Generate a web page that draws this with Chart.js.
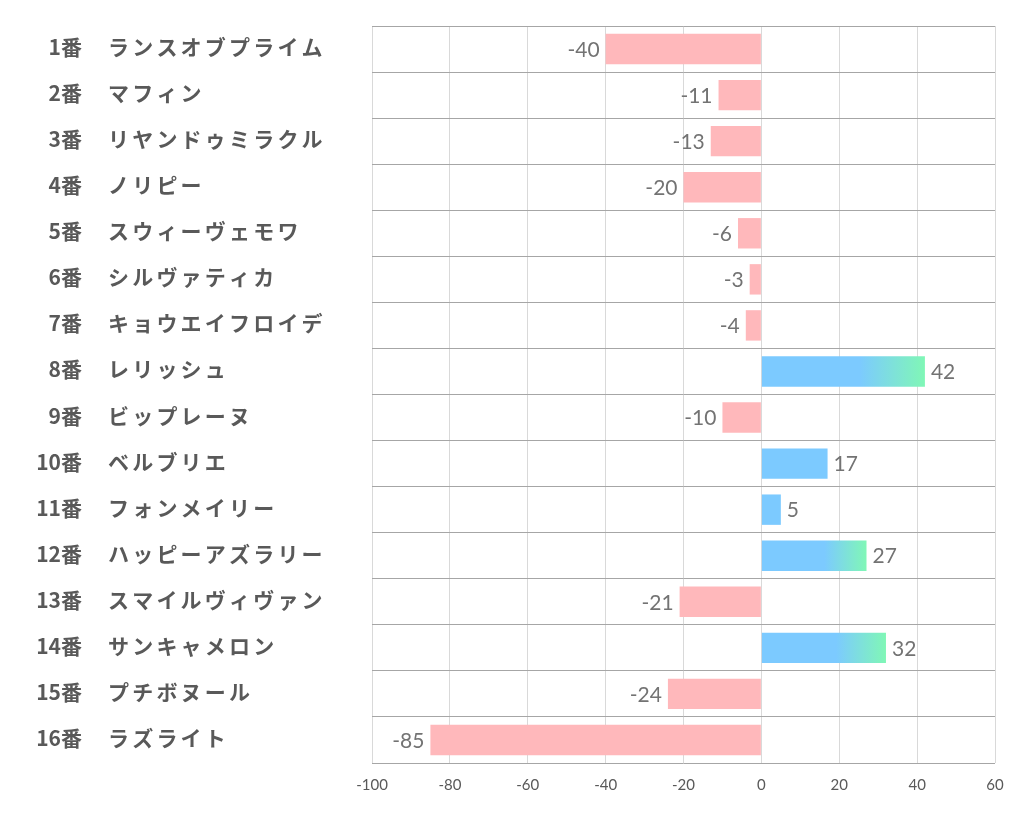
<!DOCTYPE html>
<html>
<head>
<meta charset="utf-8">
<script src="https://cdn.jsdelivr.net/npm/chart.js@4/dist/chart.umd.min.js"></script>
<style>
    html, body { margin: 0; padding: 0; background: #fff; }
    #wrap { width: 1022px; height: 834px; }
</style>
</head>
<body>
<div id="wrap"><canvas id="chart"></canvas></div>
<script>
    const horseNumbers = ['1番', '2番', '3番', '4番', '5番', '6番', '7番', '8番',
        '9番', '10番', '11番', '12番', '13番', '14番', '15番', '16番'];
    const horseNames = ['ランスオブプライム', 'マフィン', 'リヤンドゥミラクル', 'ノリピー',
        'スウィーヴェモワ', 'シルヴァティカ', 'キョウエイフロイデ', 'レリッシュ',
        'ビップレーヌ', 'ベルブリエ', 'フォンメイリー', 'ハッピーアズラリー',
        'スマイルヴィヴァン', 'サンキャメロン', 'プチボヌール', 'ラズライト'];
    const scores = [-40, -11, -13, -20, -6, -3, -4, 42, -10, 17, 5, 27, -21, 32, -24, -85];
    const xTicks = [-100, -80, -60, -40, -20, 0, 20, 40, 60];

    const labelFont = 'bold 21px "Noto Sans CJK JP", sans-serif';
    const valueFont = '21px Lato, "Open Sans", sans-serif';

    function barColor(ctx) {
        const v = ctx.raw;
        if (v < 0) return '#ffb8bb';
        const chart = ctx.chart;
        if (v <= 20 || !chart.chartArea) return '#7ccaff';
        const x0 = chart.scales.x.getPixelForValue(0);
        const x1 = chart.scales.x.getPixelForValue(v);
        const g = chart.ctx.createLinearGradient(x0, 0, x1, 0);
        g.addColorStop(0, '#7ccaff');
        g.addColorStop(0.6, '#7ccaff');
        g.addColorStop(1, '#80f7b6');
        return g;
    }

    // names on the left: number right aligned, name left aligned
    const sideLabels = {
        id: 'sideLabels',
        afterDraw(chart) {
            const c = chart.ctx;
            const y = chart.scales.y;
            c.save();
            c.font = labelFont;
            c.fillStyle = '#595959';
            c.textBaseline = 'middle';
            horseNumbers.forEach((num, i) => {
                const py = y.getPixelForValue(i) - 2;
                c.textAlign = 'right';
                c.letterSpacing = '0px';
                c.fillText(num, 82, py);
                c.textAlign = 'left';
                c.letterSpacing = '3.2px';
                c.fillText(horseNames[i], 108, py);
            });
            c.restore();
        }
    };

    const valueLabels = {
        id: 'valueLabels',
        afterDatasetsDraw(chart) {
            const c = chart.ctx;
            const meta = chart.getDatasetMeta(0);
            c.save();
            c.font = valueFont;
            c.fillStyle = '#737373';
            c.textBaseline = 'middle';
            meta.data.forEach((bar, i) => {
                const v = scores[i];
                if (v < 0) {
                    c.textAlign = 'right';
                    c.fillText(String(v), bar.x - 6, bar.y + 1);
                } else {
                    c.textAlign = 'left';
                    c.fillText(String(v), bar.x + 6, bar.y + 1);
                }
            });
            c.restore();
        }
    };

    new Chart(document.getElementById('chart'), {
        type: 'bar',
        data: {
            labels: horseNames,
            datasets: [{
                data: scores,
                backgroundColor: barColor,
                borderWidth: 0,
                categoryPercentage: 1,
                barPercentage: 0.66
            }]
        },
        options: {
            indexAxis: 'y',
            responsive: true,
            maintainAspectRatio: false,
            animation: false,
            layout: { padding: { top: 26, right: 27, bottom: 0, left: 0 } },
            plugins: {
                legend: { display: false },
                tooltip: { enabled: false }
            },
            scales: {
                x: {
                    min: -100,
                    max: 60,
                    afterBuildTicks(scale) {
                        scale.ticks = xTicks.map(v => ({ value: v }));
                    },
                    afterFit(scale) { scale.height = 71; },
                    grid: { color: '#d9d9d9', lineWidth: 1, drawTicks: false },
                    border: { display: false },
                    ticks: {
                        padding: 13,
                        color: '#595959',
                        font: { family: 'Lato, "Open Sans", sans-serif', size: 15 }
                    }
                },
                y: {
                    afterFit(scale) { scale.width = 372; },
                    grid: { offset: true, color: '#a6a6a6', lineWidth: 1, drawTicks: false },
                    border: { display: false },
                    ticks: { display: false }
                }
            }
        },
        plugins: [sideLabels, valueLabels]
    });
</script>
</body>
</html>
